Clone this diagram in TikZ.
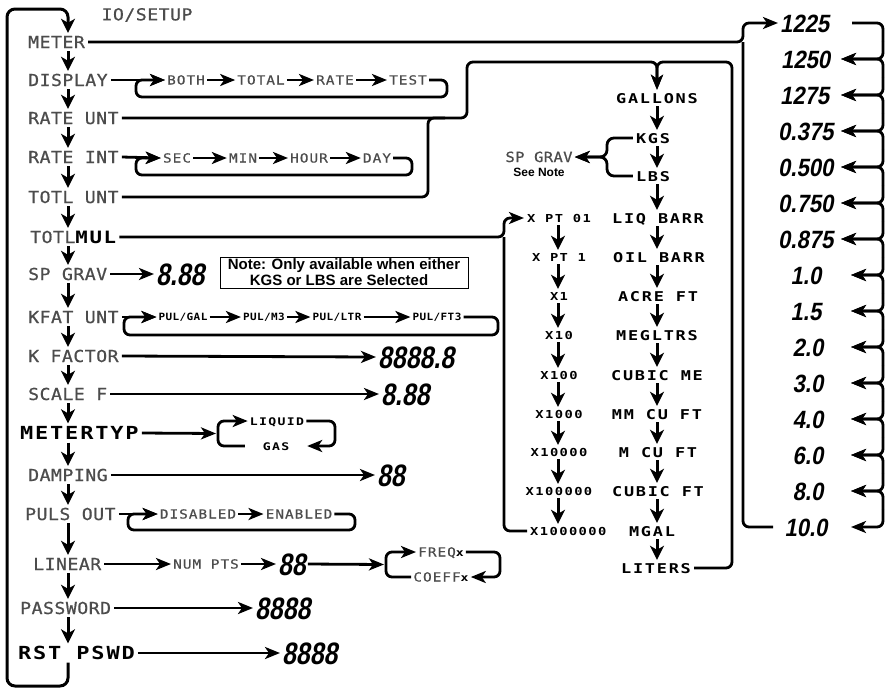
\documentclass[tikz,border=0pt]{standalone}
\usepackage{fontspec}
\usetikzlibrary{arrows.meta}
\setmainfont{Liberation Sans}
\newfontfamily\lcdface[FakeStretch=1.1,LetterSpace=3,FakeBold=0.8]{DejaVu Sans Mono}
\newfontfamily\lcdsface[FakeStretch=1.15,LetterSpace=8,FakeBold=0.6]{DejaVu Sans Mono}
\newfontfamily\segface[FakeStretch=1.25,LetterSpace=13]{DejaVu Sans Mono}
\newfontfamily\segbface[FakeStretch=1.22,LetterSpace=10]{DejaVu Sans Mono}
\newfontfamily\pulface[FakeStretch=1.1,LetterSpace=4]{DejaVu Sans Mono}
\newfontfamily\digface[FakeStretch=0.8,FakeSlant=0.18]{Liberation Sans}
\newfontfamily\rdigface[FakeStretch=0.88,FakeSlant=0.18]{Liberation Sans}
\newcommand\fLcd{\lcdface\fontsize{16.5}{18}\selectfont}
\newcommand\fLcdM{\lcdface\fontsize{14}{16}\selectfont}
\newcommand\fLcdS{\lcdsface\fontsize{12.5}{14}\selectfont}
\newcommand\fSeg{\segface\bfseries\fontsize{13.5}{15}\selectfont}
\newcommand\fSegX{\segface\bfseries\fontsize{11}{13}\selectfont}
\newcommand\fSegL{\segface\bfseries\fontsize{10.5}{12}\selectfont}
\newcommand\fSegB{\segbface\bfseries\fontsize{18}{20}\selectfont}
\newcommand\fPul{\pulface\bfseries\fontsize{10}{11}\selectfont}
\newcommand\fDig{\digface\bfseries\fontsize{31}{33}\selectfont}
\newcommand\fRdig{\rdigface\bfseries\fontsize{25}{27}\selectfont}
\begin{document}
\begin{tikzpicture}[x=1pt,y=-1pt,
  lbl/.style={font=\fLcd, text=black!70, inner xsep=3pt, inner ysep=3pt, text height=12pt, text depth=0pt, anchor=west},
  lblb/.style={font=\fSegB, inner xsep=3pt, inner ysep=3pt, text height=13pt, text depth=0pt, anchor=west},
  sm/.style={font=\fLcdS, text=black!70, inner sep=2pt, text height=9pt, text depth=0pt},
  seg/.style={font=\fSeg, inner sep=3pt, text height=10pt, text depth=0pt},
  segx/.style={font=\fSegX, inner sep=3pt, text height=8pt, text depth=0pt},
  segl/.style={font=\fSegL, inner sep=2pt, text height=8pt, text depth=0pt},
  pul/.style={font=\fPul, inner sep=2pt, text height=7pt, text depth=0pt},
  dig/.style={font=\fDig, inner sep=2pt, text height=22pt, text depth=0pt, anchor=west},
  rdig/.style={font=\fRdig, inner sep=2pt, text height=18pt, text depth=0pt},
  ln/.style={line width=2.8pt, rounded corners=6pt},
  arr/.style={ln, -{Stealth[length=15pt,width=12pt,inset=4pt]}},
  varr/.style={line width=3pt, -{Stealth[length=14pt,width=14pt,inset=4pt]}},
  notebox/.style={draw, line width=1pt, font=\bfseries\fontsize{15}{16}\selectfont, align=left, inner xsep=6pt, inner ysep=1pt, minimum width=248pt, minimum height=31pt}
]
\useasboundingbox (0,0) rectangle (888,689);
\coordinate (colx) at (68,0);
\coordinate (gx) at (657,0);
\coordinate (xx) at (558,0);

% title
\node[font=\fLcd, text=black!70] (title) at (147,15) {IO/SETUP};

% main column
\node[lbl] (meter) at (25,42) {METER};
\node[lbl] (display) at (25,80) {DISPLAY};
\node[lbl] (rateunt) at (25,118) {RATE UNT};
\node[lbl] (rateint) at (25,157) {RATE INT};
\node[lbl] (totlunt) at (25,197) {TOTL UNT};
\node[lbl] (totlmul) at (27,237) {TOTL{\color{black}\fSegB\fontsize{17}{19}\selectfont MUL}};
\node[lbl] (spgrav) at (25,274) {SP GRAV};
\node[lbl] (kfat) at (25,317) {KFAT UNT};
\node[lbl] (kfactor) at (25,356) {K FACTOR};
\node[lbl] (scalef) at (25,394) {SCALE F};
\node[lblb] (metertyp) at (17,433) {METERTYP};
\node[lbl] (damping) at (25,475) {DAMPING};
\node[lbl] (pulsout) at (22,514) {PULS OUT};
\node[lbl] (linear) at (30,564) {LINEAR};
\node[lbl] (password) at (17,608) {PASSWORD};
\node[lblb] (rstpswd) at (15,653) {RST PSWD};

\foreach \a/\b in {meter/display, display/rateunt, rateunt/rateint, rateint/totlunt, totlunt/totlmul, totlmul/spgrav, spgrav/kfat, kfat/kfactor, kfactor/scalef, scalef/metertyp, metertyp/damping, damping/pulsout, pulsout/linear, linear/password, password/rstpswd}
  \draw[varr] (\a.south -| colx) -- (\b.north -| colx);

\draw[varr, rounded corners=8pt] (rstpswd.south -| colx) -- (68,686) -- (7,686) -- (7,9) -- (68,9) -- (meter.north -| colx);

% display
\node[sm] (both) at (186,80) {BOTH};
\node[sm] (total) at (261,80) {TOTAL};
\node[sm] (rate) at (335,80) {RATE};
\node[sm] (test) at (408,80) {TEST};
\draw[arr] (display.east) -- (both.west);
\draw[arr] (both.east) -- (total.west);
\draw[arr] (total.east) -- (rate.west);
\draw[arr] (rate.east) -- (test.west);
\draw[arr] (test.east) -- (447,80) -- (447,97) -- (136,97) -- (136,80) -- (both.west);

% rate int
\node[sm] (sec) at (177,158) {SEC};
\node[sm] (min) at (243,158) {MIN};
\node[sm] (hour) at (309,158) {HOUR};
\node[sm] (day) at (377,158) {DAY};
\draw[arr] (rateint.east) -- (sec.west);
\draw[arr] (sec.east) -- (min.west);
\draw[arr] (min.east) -- (hour.west);
\draw[arr] (hour.east) -- (day.west);
\draw[arr] (day.east) -- (412,158) -- (412,175) -- (136,175) -- (136,158) -- (sec.west);

% sp grav
\node[dig] (sp888) at (154,274) {8.88};
\draw[arr] (spgrav.east) -- (sp888.west);
\node[notebox] (note) at (344,272.5) {Note: Only available when either\\\hspace*{22pt}KGS or LBS are Selected};

% kfat
\node[pul] (pg) at (183,317) {PUL/GAL};
\node[pul] (pm) at (264,317) {PUL/M3};
\node[pul] (pl) at (337,317) {PUL/LTR};
\node[pul] (pf) at (437,317) {PUL/FT3};
\draw[arr] (kfat.east) -- (pg.west);
\draw[arr] (pg.east) -- (pm.west);
\draw[arr] (pm.east) -- (pl.west);
\draw[arr] (pl.east) -- (pf.west);
\draw[arr] (pf.east) -- (498,317) -- (498,335) -- (124,335) -- (124,317) -- (pg.west);

% k factor, scale f
\node[dig] (k8) at (376,357) {8888.8};
\draw[arr] (kfactor.east) -- (k8.west);
\node[dig] (sc888) at (379,394) {8.88};
\draw[arr] (scalef.east) -- (sc888.west);

% meter type
\node[segl] (liquid) at (277,421) {LIQUID};
\node[segl, minimum width=62pt] (gas) at (276,446) {GAS};
\coordinate (mbr) at (216,433.5);
\draw[arr] (metertyp.east) -- (mbr);
\draw[arr] (gas.west) -- (218,446) -- (218,421) -- (liquid.west);
\draw[arr] (liquid.east) -- (335,421) -- (335,446) -- (gas.east);

% damping
\node[dig] (d88) at (375,475) {88};
\draw[arr] (damping.east) -- (d88.west);

% puls out
\node[sm] (disab) at (198,514) {DISABLED};
\node[sm] (enab) at (299,514) {ENABLED};
\draw[arr] (pulsout.east) -- (disab.west);
\draw[arr] (disab.east) -- (enab.west);
\draw[arr] (enab.east) -- (355,514) -- (355,530) -- (128,530) -- (128,514) -- (disab.west);

% linear
\node[sm] (numpts) at (206,564) {NUM PTS};
\node[dig] (l88) at (276,564) {88};
\coordinate (lbr) at (384,564.5);
\node[sm] (freq) at (441,552) {FREQ{\color{black}\fSegL x}};
\node[sm] (coeff) at (441,577) {COEFF{\color{black}\fSegL x}};
\draw[arr] (linear.east) -- (numpts.west);
\draw[arr] (numpts.east) -- (l88.west);
\draw[arr] (l88.east) -- (lbr);
\draw[arr] (coeff.west) -- (386,577) -- (386,552) -- (freq.west);
\draw[arr] (freq.east) -- (500,552) -- (500,577) -- (coeff.east);

% password
\node[dig] (pw8) at (253,608) {8888};
\draw[arr] (password.east) -- (pw8.west);
\node[dig] (rs8) at (280,653) {8888};
\draw[arr] (rstpswd.east) -- (rs8.west);

% units column
\foreach \nm/\t/\xp/\yy in {g1/GALLONS/657/98, g2/KGS/653/138, g3/LBS/653/176, g4/LIQ BARR/658/218, g5/OIL BARR/659/257, g6/ACRE FT/658/296, g7/MEGLTRS/657/335, g8/CUBIC ME/657/375, g9/MM CU FT/657/414, g10/M CU FT/658/452, g11/CUBIC FT/658/491, g12/MGAL/652/531, g13/LITERS/656/568}
  \node[seg] (\nm) at (\xp,\yy) {\t};
\foreach \a/\b in {g1/g2,g2/g3,g3/g4,g4/g5,g5/g6,g6/g7,g7/g8,g8/g9,g9/g10,g10/g11,g11/g12,g12/g13}
  \draw[varr] (\a.south -| gx) -- (\b.north -| gx);

% multiplier column
\foreach \nm/\t/\yy in {xa/X PT 01/218, xb/X PT 1/257, xc/X1/296, xd/X10/335, xe/X100/375, xf/X1000/414, xg/X10000/452, xh/X100000/491}
  \node[segx] (\nm) at (559,\yy) {\t};
\node[segx, anchor=west] (xi) at (527,531) {X1000000};
\foreach \a/\b in {xa/xb,xb/xc,xc/xd,xd/xe,xe/xf,xf/xg,xg/xh,xh/xi}
  \draw[varr] (\a.south -| xx) -- (\b.north -| xx);

% totl mul bracket
\draw[arr] (totlmul.east) -- (504,237) -- (504,218) -- (xa.west);
\draw[ln] (504,237) -- (504,531) -- (xi.west);

% gallons loop
\draw[arr] (rateunt.east) -- (467,118) -- (467,62) -- (657,62) -- (g1.north);
\draw[ln] (totlunt.east) -- (428,197) -- (428,118) -- (445,118);
\draw[arr] (g13.east) -- (732,568) -- (732,62) -- (657,62) -- (g1.north);

% sp grav brace
\node[font=\fLcdM, text=black!70, inner sep=2pt, text height=10pt, text depth=0pt] (spg) at (539,157) {SP GRAV};
\node[font=\bfseries\fontsize{12}{13}\selectfont, inner sep=1pt] (seenote) at (539,172) {See Note};
\draw[arr, rounded corners=7pt] (g2.west) -- (607,138) -- (607,157) -- (spg.east);
\draw[arr, rounded corners=7pt] (g3.west) -- (607,176) -- (607,157) -- (spg.east);

% right column numbers
\node[rdig, anchor=west] (r1) at (778,23) {1225};
\node[rdig, anchor=west] (r2) at (779,59) {1250};
\node[rdig, anchor=west] (r3) at (778,95) {1275};
\node[rdig, anchor=west] (r4) at (776,131) {0.375};
\node[rdig, anchor=west] (r5) at (776,167) {0.500};
\node[rdig, anchor=west] (r6) at (776,203) {0.750};
\node[rdig, anchor=west] (r7) at (776,239) {0.875};
\node[rdig] (r8) at (806,275) {1.0};
\node[rdig] (r9) at (806,311) {1.5};
\node[rdig] (r10) at (808,347) {2.0};
\node[rdig] (r11) at (808,383) {3.0};
\node[rdig] (r12) at (808,419) {4.0};
\node[rdig] (r13) at (808,455) {6.0};
\node[rdig] (r14) at (808,491) {8.0};
\node[rdig] (r15) at (806,527) {10.0};

\coordinate (t1) at (852,23);
\foreach \i in {2,...,15} {
  \pgfmathsetmacro\yy{23+36*(\i-1)}
  \pgfmathsetmacro\tx{ifthenelse(\i<8,841,851)}
  \coordinate (t\i) at (\tx,\yy);
}
\draw[ln] (t1) -- (883,23) -- (883,41);
\foreach \i in {2,...,15} {
  \pgfmathsetmacro\yy{23+36*(\i-1)}
  \draw[arr] (883,\yy-18) -- (883,\yy) -- (t\i);
}
\foreach \i in {2,...,14} {
  \pgfmathsetmacro\yy{23+36*(\i-1)}
  \draw[arr] (883,\yy+18) -- (883,\yy) -- (t\i);
}

% meter bracket
\coordinate (m15) at (773,527);
\draw[arr] (meter.east) -- (743,42) -- (743,23) -- (r1.west);
\draw[ln] (743,42) -- (743,527) -- (m15);
\end{tikzpicture}
\end{document}
